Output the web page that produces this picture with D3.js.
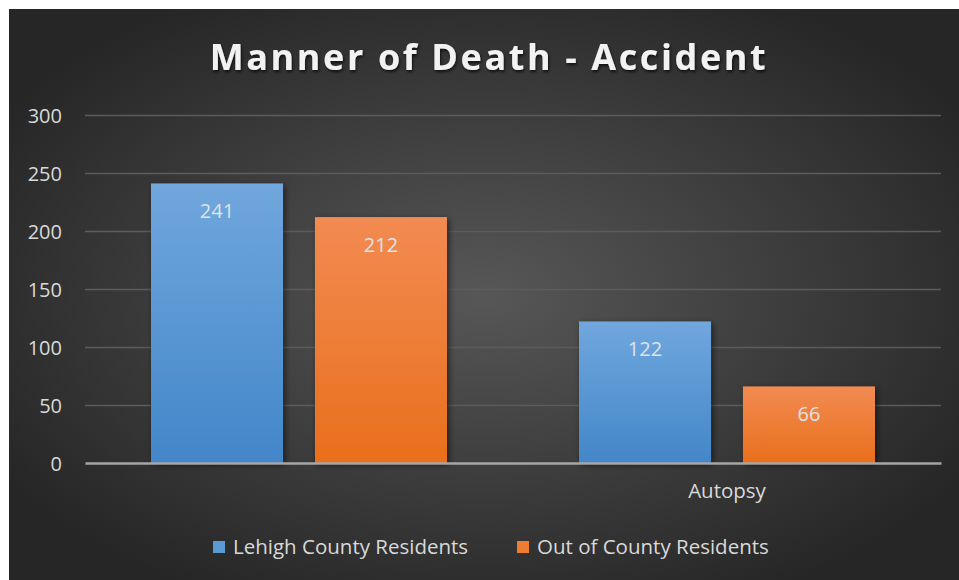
<!DOCTYPE html>
<html>
<head>
<meta charset="utf-8">
<script src="https://cdn.jsdelivr.net/npm/d3@7"></script>
<style>
    body { margin: 0; background: #fff; }
    svg text { font-family: "Open Sans", sans-serif; }
</style>
</head>
<body>
<div class="chart-container"></div>
<script>
// chart data
const categories = ['', 'Autopsy'];
const seriesNames = ['Lehigh County Residents', 'Out of County Residents'];
const lehighValues = [241, 122];
const outOfCountyValues = [212, 66];
const yTicks = [0, 50, 100, 150, 200, 250, 300];

const barChartData = categories.map((c, i) => ({
    category: c,
    values: [
        { series: seriesNames[0], value: lehighValues[i] },
        { series: seriesNames[1], value: outOfCountyValues[i] },
    ],
}));

const svg_width = 959;
const svg_height = 580;
const chart_margin = { top: 115, right: 18, bottom: 117, left: 85 };
const chart_width = svg_width - chart_margin.left - chart_margin.right;
const chart_height = svg_height - chart_margin.top - chart_margin.bottom;

const svg = d3.select('.chart-container').append('svg')
    .attr('width', svg_width).attr('height', svg_height);

// gradients & shadows
const defs = svg.append('defs');
const bg = defs.append('radialGradient').attr('id', 'bg')
    .attr('cx', '50%').attr('cy', '50%').attr('r', '60%');
bg.append('stop').attr('offset', '0%').attr('stop-color', '#575757');
bg.append('stop').attr('offset', '100%').attr('stop-color', '#262626');

const barColors = [['#70a7dd', '#4386c9'], ['#f28b52', '#e96f1c']];
const legendColors = ['#5b9bd5', '#ed7d31'];
barColors.forEach((c, i) => {
    const g = defs.append('linearGradient').attr('id', `bar${i}`)
        .attr('x1', 0).attr('y1', 0).attr('x2', 0).attr('y2', 1);
    g.append('stop').attr('offset', '0%').attr('stop-color', c[0]);
    g.append('stop').attr('offset', '100%').attr('stop-color', c[1]);
});

const shadow = defs.append('filter').attr('id', 'shadow')
    .attr('x', '-20%').attr('y', '-20%').attr('width', '140%').attr('height', '140%');
shadow.append('feDropShadow').attr('dx', 2).attr('dy', 2).attr('stdDeviation', 3)
    .attr('flood-color', '#000').attr('flood-opacity', 0.55);

const textShadow = defs.append('filter').attr('id', 'textShadow')
    .attr('x', '-10%').attr('y', '-30%').attr('width', '120%').attr('height', '160%');
textShadow.append('feDropShadow').attr('dx', 1).attr('dy', 2).attr('stdDeviation', 1.5)
    .attr('flood-color', '#000').attr('flood-opacity', 0.7);

// background
svg.append('rect').attr('x', 9).attr('y', 9)
    .attr('width', svg_width - 9).attr('height', svg_height - 9)
    .attr('fill', 'url(#bg)');

// title
svg.append('text')
    .attr('x', 489).attr('y', 70)
    .attr('text-anchor', 'middle')
    .attr('fill', '#f2f2f2')
    .style('font-size', '36px').style('font-weight', 'bold')
    .style('letter-spacing', '2.6px')
    .attr('filter', 'url(#textShadow)')
    .text('Manner of Death - Accident');

const chart = svg.append('g')
    .attr('transform', `translate(${chart_margin.left}, ${chart_margin.top})`);

// scales
const yScale = d3.scaleLinear().domain([0, 300]).range([chart_height, 0]);
const xScale = d3.scaleBand().domain(categories).range([0, chart_width]);
const xInner = d3.scaleBand().domain(seriesNames)
    .range([66, xScale.bandwidth() - 66]).paddingInner(0.195);

// gridlines
const yAxis = d3.axisLeft(yScale).tickValues(yTicks).tickSizeInner(-chart_width).tickSizeOuter(0).tickPadding(23);
const yAxisDraw = chart.append('g').attr('class', 'y axis').call(yAxis);
yAxisDraw.select('.domain').remove();
yAxisDraw.selectAll('line').attr('stroke', '#5c5c5c').attr('stroke-width', 1.5)
    .filter(d => d === 0).remove();
yAxisDraw.selectAll('text').attr('fill', '#d9d9d9').style('font-size', '20px').attr('dy', '0.35em');

// bars
const groups = chart.selectAll('.group')
    .data(barChartData)
    .enter()
    .append('g')
    .attr('class', 'group')
    .attr('transform', d => `translate(${xScale(d.category)}, 0)`);

groups.selectAll('.bar')
    .data(d => d.values)
    .enter()
    .append('rect')
    .attr('class', 'bar')
    .attr('x', d => xInner(d.series))
    .attr('y', d => yScale(d.value))
    .attr('width', xInner.bandwidth())
    .attr('height', d => chart_height - yScale(d.value))
    .attr('fill', (d, i) => `url(#bar${i})`)
    .attr('filter', 'url(#shadow)');

groups.selectAll('.label')
    .data(d => d.values)
    .enter()
    .append('text')
    .attr('class', 'label')
    .attr('x', d => xInner(d.series) + xInner.bandwidth() / 2)
    .attr('y', d => yScale(d.value) + 35)
    .attr('text-anchor', 'middle')
    .attr('fill', '#dde3ea')
    .style('font-size', '20px')
    .text(d => d.value);

// x axis line
const xAxis = d3.axisBottom(xScale).tickSize(0).tickPadding(20);
const xAxisDraw = chart.append('g').attr('class', 'x axis')
    .attr('transform', `translate(0, ${chart_height})`).call(xAxis);
xAxisDraw.select('.domain').attr('stroke', '#a6a6a6').attr('stroke-width', 2.5);
xAxisDraw.selectAll('text').attr('fill', '#d9d9d9').style('font-size', '20.5px');

// legend
const legendX = [213, 517];
const legend = svg.append('g').attr('class', 'legend');
seriesNames.forEach((name, i) => {
    const item = legend.append('g').attr('transform', `translate(${legendX[i]}, 547)`);
    item.append('rect').attr('x', 0).attr('y', -6).attr('width', 12).attr('height', 12)
        .attr('fill', legendColors[i]);
    item.append('text').attr('x', 20).attr('y', 0).attr('dy', '0.35em')
        .attr('fill', '#d9d9d9').style('font-size', '20.5px')
        .text(name);
});
</script>
</body>
</html>
